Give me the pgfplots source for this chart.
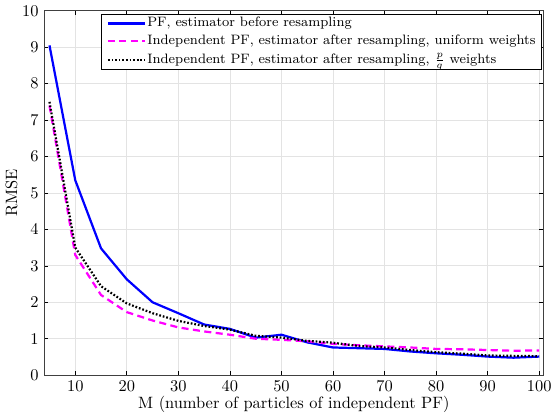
\documentclass[border=0pt]{standalone}
\usepackage{pgfplots}
\pgfplotsset{compat=1.18}
\definecolor{mag}{RGB}{255,0,255}
\definecolor{pblue}{RGB}{0,0,255}
\begin{document}
\begin{tikzpicture}
\begin{axis}[
  scale only axis,
  width=304pt, height=222pt,
  xmin=4, xmax=100.8,
  ymin=0, ymax=10,
  xtick={10,20,30,40,50,60,70,80,90,100},
  ytick={0,1,2,3,4,5,6,7,8,9,10},
  tick align=inside,
  tick style={black, thin},
  major tick length=2.5pt,
  grid=major,
  grid style={gray!22, line width=0.5pt},
  axis line style={black!75, line width=0.6pt},
  xlabel={M (number of particles of independent PF)},
  ylabel={RMSE},
  xlabel style={yshift=4pt},
  ylabel style={yshift=-4pt},
  legend cell align=left,
  legend style={at={(rel axis cs:0.997,0.992)}, anchor=north east,
    draw=black, line width=0.5pt, inner xsep=3pt, inner ysep=1pt, row sep=1.6pt,
    nodes={inner xsep=0.6pt, inner ysep=1pt},
    font=\fontsize{8.3}{10.2}\selectfont},
  legend image code/.code={\draw[#1] (0cm,0cm) -- (0.8cm,0cm);},
]
\addplot[pblue, line width=1.35pt] coordinates {
(5,9.05)(10,5.35)(15,3.48)(20,2.63)(25,2.0)(30,1.7)(35,1.39)(40,1.27)(45,1.03)(50,1.11)
(55,0.9)(60,0.76)(65,0.74)(70,0.72)(75,0.65)(80,0.6)(85,0.56)(90,0.51)(95,0.48)(100,0.51)};
\addlegendentry{PF, estimator before resampling}
\addplot[mag, line width=1.35pt, dash pattern=on 4.3pt off 2.7pt] coordinates {
(5,7.4)(10,3.3)(15,2.2)(20,1.73)(25,1.5)(30,1.31)(35,1.2)(40,1.11)(45,1.0)(50,0.97)
(55,0.93)(60,0.86)(65,0.82)(70,0.79)(75,0.76)(80,0.72)(85,0.71)(90,0.69)(95,0.67)(100,0.68)};
\addlegendentry{Independent PF, estimator after resampling, uniform weights}
\addplot[black, line width=1.35pt, dash pattern=on 1.05pt off 1.15pt] coordinates {
(5,7.5)(10,3.5)(15,2.44)(20,1.97)(25,1.7)(30,1.49)(35,1.35)(40,1.25)(45,1.08)(50,1.03)
(55,0.94)(60,0.89)(65,0.8)(70,0.76)(75,0.69)(80,0.63)(85,0.59)(90,0.54)(95,0.53)(100,0.52)};
\addlegendentry{Independent PF, estimator after resampling, $\frac{p}{q}$ weights}
\end{axis}
\end{tikzpicture}
\end{document}
